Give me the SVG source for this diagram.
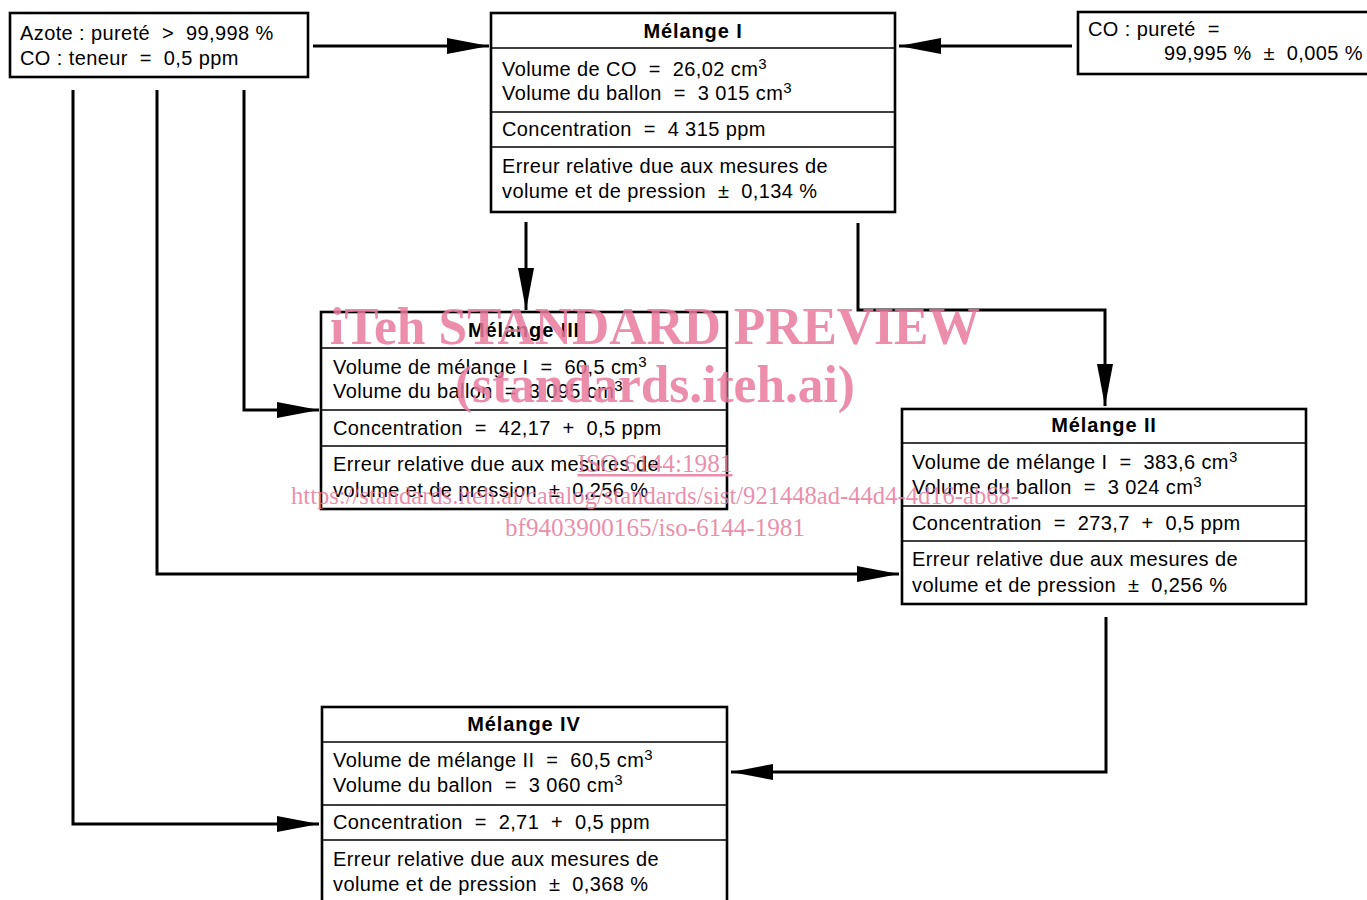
<svg xmlns="http://www.w3.org/2000/svg" width="1367" height="900" viewBox="0 0 1367 900">
<defs>
<style>
.box{fill:#fff;stroke:#000;stroke-width:2.6}
.div{stroke:#000;stroke-width:1.6;fill:none}
.t{font-family:"Liberation Sans",Arial,sans-serif;font-size:20px;letter-spacing:0.4px;fill:#000}
.h{font-family:"Liberation Sans",Arial,sans-serif;font-size:20px;font-weight:bold;letter-spacing:0.9px;fill:#000;text-anchor:middle}
.s{font-size:15px}
.c{fill:none;stroke:#000;stroke-width:3}
.wm{font-family:"Liberation Serif","Times New Roman",serif;fill:#e8799c;fill-opacity:0.85;text-anchor:middle}
</style>
<marker id="ah" markerUnits="userSpaceOnUse" markerWidth="44" markerHeight="17" refX="42" refY="8" orient="auto">
<path d="M0,0 L42,8 L0,16 z" fill="#000"/>
</marker>
</defs>

<g id="connectors">
<path class="c" d="M313,46 L489,46" marker-end="url(#ah)"/>
<path class="c" d="M1072,46 L899,46" marker-end="url(#ah)"/>
<path class="c" d="M526,222 L526,310" marker-end="url(#ah)"/>
<path class="c" d="M858,223 L858,310 L1105,310 L1105,406" marker-end="url(#ah)"/>
<path class="c" d="M244,90 L244,410 L319,410" marker-end="url(#ah)"/>
<path class="c" d="M157,90 L157,574 L899,574" marker-end="url(#ah)"/>
<path class="c" d="M73,90 L73,824 L319,824" marker-end="url(#ah)"/>
<path class="c" d="M1106,617 L1106,772 L731,772" marker-end="url(#ah)"/>
</g>

<g id="azote">
<rect class="box" x="10" y="13" width="298" height="64"/>
<text class="t" x="20" y="40">Azote : pureté &#160;&gt; &#160;99,998 %</text>
<text class="t" x="20" y="65">CO : teneur &#160;= &#160;0,5 ppm</text>
</g>

<g id="co">
<rect class="box" x="1078" y="12" width="300" height="62"/>
<text class="t" x="1088" y="36">CO : pureté &#160;=</text>
<text class="t" x="1363" y="60" text-anchor="end">99,995 % &#160;± &#160;0,005 %</text>
</g>

<g id="melange1">
<rect class="box" x="491" y="13" width="404" height="199"/>
<path class="div" d="M491,48 H895 M491,112 H895 M491,147 H895"/>
<text class="h" x="693" y="38">Mélange I</text>
<text class="t" x="502" y="76">Volume de CO &#160;= &#160;26,02 cm<tspan class="s" dy="-7">3</tspan></text>
<text class="t" x="502" y="100">Volume du ballon &#160;= &#160;3 015 cm<tspan class="s" dy="-7">3</tspan></text>
<text class="t" x="502" y="136">Concentration &#160;= &#160;4 315 ppm</text>
<text class="t" x="502" y="173">Erreur relative due aux mesures de</text>
<text class="t" x="502" y="198">volume et de pression &#160;± &#160;0,134 %</text>
</g>

<g id="melange3">
<rect class="box" x="321" y="312" width="406" height="197"/>
<path class="div" d="M321,348 H727 M321,410 H727 M321,446 H727"/>
<text class="h" x="524" y="337">Mélange III</text>
<text class="t" x="333" y="374">Volume de mélange I &#160;= &#160;60,5 cm<tspan class="s" dy="-7">3</tspan></text>
<text class="t" x="333" y="398">Volume du ballon &#160;= &#160;3 095 cm<tspan class="s" dy="-7">3</tspan></text>
<text class="t" x="333" y="435">Concentration &#160;= &#160;42,17 &#160;+ &#160;0,5 ppm</text>
<text class="t" x="333" y="471">Erreur relative due aux mesures de</text>
<text class="t" x="333" y="497">volume et de pression &#160;± &#160;0,256 %</text>
</g>

<g id="melange2">
<rect class="box" x="902" y="409" width="404" height="195"/>
<path class="div" d="M902,443 H1306 M902,506 H1306 M902,541 H1306"/>
<text class="h" x="1104" y="432">Mélange II</text>
<text class="t" x="912" y="469">Volume de mélange I &#160;= &#160;383,6 cm<tspan class="s" dy="-7">3</tspan></text>
<text class="t" x="912" y="494">Volume du ballon &#160;= &#160;3 024 cm<tspan class="s" dy="-7">3</tspan></text>
<text class="t" x="912" y="530">Concentration &#160;= &#160;273,7 &#160;+ &#160;0,5 ppm</text>
<text class="t" x="912" y="566">Erreur relative due aux mesures de</text>
<text class="t" x="912" y="592">volume et de pression &#160;± &#160;0,256 %</text>
</g>

<g id="melange4">
<rect class="box" x="322" y="707" width="405" height="205"/>
<path class="div" d="M322,742 H727 M322,805 H727 M322,840 H727"/>
<text class="h" x="524" y="731">Mélange IV</text>
<text class="t" x="333" y="767">Volume de mélange II &#160;= &#160;60,5 cm<tspan class="s" dy="-7">3</tspan></text>
<text class="t" x="333" y="792">Volume du ballon &#160;= &#160;3 060 cm<tspan class="s" dy="-7">3</tspan></text>
<text class="t" x="333" y="829">Concentration &#160;= &#160;2,71 &#160;+ &#160;0,5 ppm</text>
<text class="t" x="333" y="866">Erreur relative due aux mesures de</text>
<text class="t" x="333" y="891">volume et de pression &#160;± &#160;0,368 %</text>
</g>

<g id="watermark">
<text class="wm" x="655" y="344" font-size="52" font-weight="bold" textLength="650" lengthAdjust="spacingAndGlyphs">iTeh STANDARD PREVIEW</text>
<text class="wm" x="655" y="402" font-size="52" font-weight="bold" textLength="400" lengthAdjust="spacingAndGlyphs">(standards.iteh.ai)</text>
<text class="wm" x="655" y="472" font-size="25" textLength="155" lengthAdjust="spacingAndGlyphs" text-decoration="underline">ISO 6144:1981</text>
<text class="wm" x="655" y="504" font-size="25" textLength="728" lengthAdjust="spacingAndGlyphs">https://standards.iteh.ai/catalog/standards/sist/921448ad-44d4-4d16-ab68-</text>
<text class="wm" x="655" y="536" font-size="25" textLength="300" lengthAdjust="spacingAndGlyphs">bf9403900165/iso-6144-1981</text>
</g>
</svg>
